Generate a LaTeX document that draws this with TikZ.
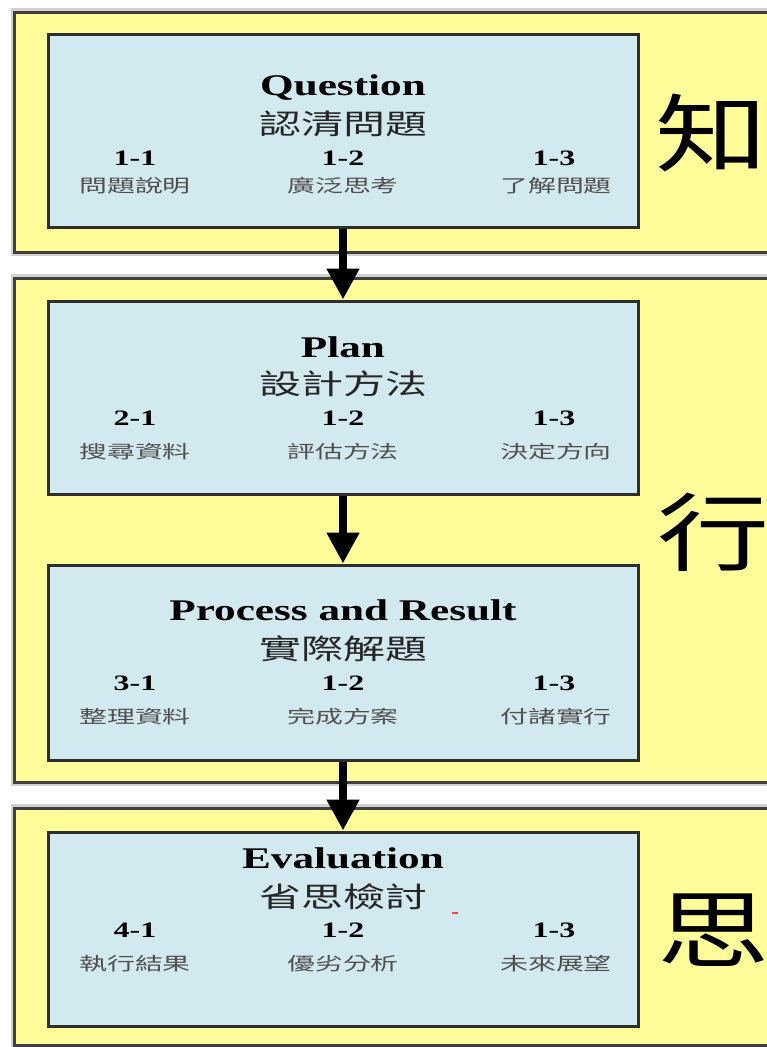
\documentclass[tikz,border=0pt]{standalone}
\usepackage{fontspec}
\usepackage{graphicx}
\setmainfont{Liberation Serif}
\newfontfamily\cjk{Noto Sans CJK TC}
\usetikzlibrary{arrows.meta}
\definecolor{panelfill}{HTML}{FFFC9A}
\definecolor{panelline}{HTML}{404040}
\definecolor{boxfill}{HTML}{D2E9EF}
\definecolor{boxline}{HTML}{2E2E2E}
\definecolor{subgray}{HTML}{505050}
\newcommand\ttltext[1]{\scalebox{1.44}[1]{\fontsize{30}{30}\selectfont\bfseries #1}}
\newcommand\cjktitle[1]{\scalebox{1.5}[1]{\fontsize{28}{28}\selectfont\cjk #1}}
\newcommand\numtext[1]{\scalebox{1.45}[1]{\fontsize{22}{22}\selectfont\bfseries #1}}
\newcommand\labtext[1]{\scalebox{1.55}[1]{\fontsize{18}{18}\selectfont\cjk #1}}
\newcommand\bigchar[1]{\scalebox{1.32}[1]{\fontsize{85}{85}\selectfont\cjk #1}}
\begin{document}
\begin{tikzpicture}[x=1pt,y=-1pt,
  panel/.style={fill=panelfill,draw=panelline,line width=3pt},
  shadowline/.style={draw=black!18,line width=8pt},
  box/.style={draw=boxline,fill=boxfill,line width=3pt,minimum width=590pt,inner sep=0pt},
  arr/.style={line width=8pt,-{Triangle[length=31pt,width=31pt]}},
  ttl/.style={anchor=base,inner sep=0pt,text=black},
  ctl/.style={inner sep=0pt,text=black!85},
  num/.style={anchor=base,inner sep=0pt,text=black},
  lab/.style={inner sep=0pt,text=subgray},
  big/.style={inner sep=0pt,text=black}]
\useasboundingbox (0,0) rectangle (767,1047);
\clip (0,0) rectangle (767,1047);
% panels
\draw[shadowline] (14.5,12) rectangle (800,252);
\draw[shadowline] (14.5,278) rectangle (800,782);
\draw[shadowline] (14.5,808) rectangle (800,1045);
\draw[panel] (14.5,12) rectangle (800,252);
\draw[panel] (14.5,278) rectangle (800,782);
\draw[panel] (14.5,808) rectangle (800,1045);
% boxes
\node[box,minimum height=193pt] (b1) at (343,130.5) {};
\node[box,minimum height=193pt] (b2) at (343,397.5) {};
\node[box,minimum height=195pt] (b3) at (343,662.5) {};
\node[box,minimum height=194pt] (b4) at (343,929) {};
% arrows
\draw[arr] (b1.south) -- (b2.north);
\draw[arr] (b2.south) -- (b3.north);
\draw[arr] (b3.south) -- (b4.north);
% box 1
\node[ttl] (t1) at (343,95) {\ttltext{Question}};
\node[ctl] (c1) at (343,124) {\cjktitle{認清問題}};
\node[num] (n11) at (135,165) {\numtext{1-1}};
\node[num] (n12) at (343,165) {\numtext{1-2}};
\node[num] (n13) at (554,165) {\numtext{1-3}};
\node[lab] (l11) at (135,186) {\labtext{問題說明}};
\node[lab] (l12) at (343,186) {\labtext{廣泛思考}};
\node[lab] (l13) at (556,186) {\labtext{了解問題}};
% box 2
\node[ttl] (t2) at (343,357) {\ttltext{Plan}};
\node[ctl] (c2) at (343,384) {\cjktitle{設計方法}};
\node[num] (n21) at (135,425) {\numtext{2-1}};
\node[num] (n22) at (343,425) {\numtext{1-2}};
\node[num] (n23) at (554,425) {\numtext{1-3}};
\node[lab] (l21) at (135,452) {\labtext{搜尋資料}};
\node[lab] (l22) at (343,452) {\labtext{評估方法}};
\node[lab] (l23) at (556,452) {\labtext{決定方向}};
% box 3
\node[ttl] (t3) at (343,620) {\ttltext{Process and Result}};
\node[ctl] (c3) at (343,649) {\cjktitle{實際解題}};
\node[num] (n31) at (135,690) {\numtext{3-1}};
\node[num] (n32) at (343,690) {\numtext{1-2}};
\node[num] (n33) at (554,690) {\numtext{1-3}};
\node[lab] (l31) at (135,717) {\labtext{整理資料}};
\node[lab] (l32) at (343,717) {\labtext{完成方案}};
\node[lab] (l33) at (556,717) {\labtext{付諸實行}};
% box 4
\node[ttl] (t4) at (343,868) {\ttltext{Evaluation}};
\node[ctl] (c4) at (343,897) {\cjktitle{省思檢討}};
\node[num] (n41) at (135,937) {\numtext{4-1}};
\node[num] (n42) at (343,937) {\numtext{1-2}};
\node[num] (n43) at (554,937) {\numtext{1-3}};
\node[lab] (l41) at (135,964) {\labtext{執行結果}};
\node[lab] (l42) at (343,964) {\labtext{優劣分析}};
\node[lab] (l43) at (556,964) {\labtext{未來展望}};
% side characters
\node[big] (k1) at (712,133) {\bigchar{知}};
\node[big] (k2) at (714,532) {\bigchar{行}};
\node[big] (k3) at (714,930) {\bigchar{思}};
% stray red mark
\fill[red!75] (452,912) rectangle (458,914);
\end{tikzpicture}
\end{document}
